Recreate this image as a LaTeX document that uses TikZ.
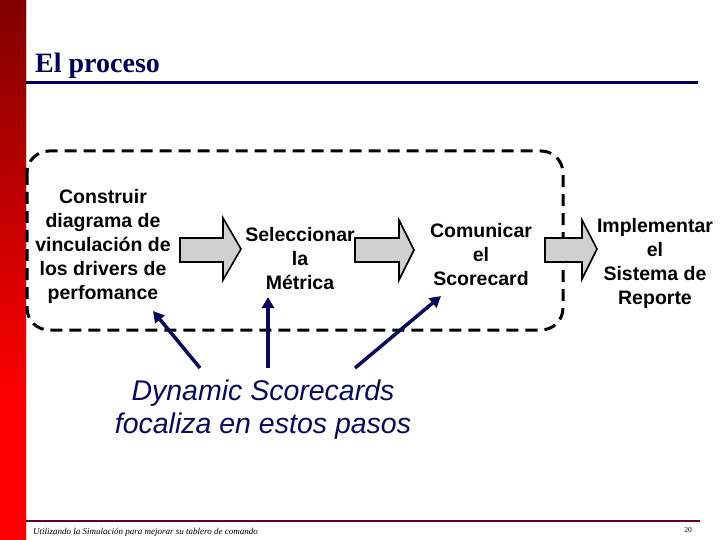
\documentclass[tikz,border=0pt]{standalone}
\usepackage{fontspec}
\setmainfont{Liberation Serif}
\newfontfamily\arialf{Liberation Sans}
\usetikzlibrary{arrows.meta}
\definecolor{navy}{HTML}{000055}
\definecolor{darknavy}{HTML}{0A0A5A}
\definecolor{maroon}{HTML}{660033}
\definecolor{arrowgray}{HTML}{D0D0D0}
\tikzset{
  steptext/.style={font=\arialf\bfseries\fontsize{19.5}{24}\selectfont, align=center, text=black, inner sep=0pt},
  blockarrow/.style={fill=arrowgray, draw=black, line width=1.6pt, line join=miter},
  focusarrow/.style={draw=darknavy, line width=3.5pt, -{Triangle[length=11pt,width=12pt]}},
}
\begin{document}
\begin{tikzpicture}[x=1pt,y=-1pt]
\useasboundingbox (0,0) rectangle (720,540);
\fill[white] (0,0) rectangle (720,540);
% left red bar
\shade[top color={rgb,255:red,128;green,0;blue,0}, bottom color={rgb,255:red,255;green,0;blue,0}] (0,0) rectangle (26,540);
\shade[top color={rgb,255:red,255;green,0;blue,0}, bottom color={rgb,255:red,255;green,0;blue,0}] (0,400) rectangle (26,540);
\shade[top color={rgb,255:red,128;green,0;blue,0}, bottom color={rgb,255:red,255;green,0;blue,0}] (0,0) rectangle (26,400);
% title
\node[anchor=base west, inner sep=0pt, text=navy, font=\bfseries\fontsize{28}{30}\selectfont] (title) at (35,73) {El proceso};
\draw[navy, line width=3pt] (26,83) -- (698,83);
% footer
\draw[maroon, line width=2.5pt] (26,521) -- (700,521);
\node[anchor=base west, inner sep=0pt, font=\itshape\fontsize{9}{10}\selectfont] (foot) at (33,534) {Utilizando la Simulación para mejorar su tablero de comando};
\node[anchor=base, inner sep=0pt, font=\fontsize{7.5}{8}\selectfont] (pnum) at (688,532) {20};
% dashed frame
\draw[line width=3pt, dash pattern=on 12pt off 7pt, rounded corners=22pt] (27,151) rectangle (563,330);
% step texts
\node[steptext] (s1) at (103,246) {Construir\\diagrama de\\vinculación de\\los drivers de\\perfomance};
\node[steptext] (s2) at (300,259) {Seleccionar\\la\\Métrica};
\node[steptext] (s3) at (481,255) {Comunicar\\el\\Scorecard};
\node[steptext] (s4) at (655,263) {Implementar\\el\\Sistema de\\Reporte};
% block arrows
\draw[blockarrow] (180,238) -- (223,238) -- (223,218) -- (241,249) -- (223,280) -- (223,262) -- (180,262) -- cycle;
\draw[blockarrow] (355,238) -- (399,238) -- (399,220) -- (414,250) -- (399,280) -- (399,262) -- (355,262) -- cycle;
\draw[blockarrow] (545,238) -- (582,238) -- (582,220) -- (597,249) -- (582,279) -- (582,262) -- (545,262) -- cycle;
% focus label and arrows
\node[text=darknavy, font=\arialf\itshape\fontsize{28.5}{33}\selectfont, align=center, inner sep=0pt] (ds) at (263,410) {Dynamic Scorecards\\focaliza en estos pasos};
\coordinate (f1) at (200,368);
\coordinate (f2) at (268,368);
\coordinate (f3) at (355,368);
\coordinate (t1) at (153,311);
\coordinate (t2) at (268,297);
\coordinate (t3) at (441,296);
\draw[focusarrow] (f1) -- (t1);
\draw[focusarrow] (f2) -- (t2);
\draw[focusarrow] (f3) -- (t3);
\end{tikzpicture}
\end{document}
